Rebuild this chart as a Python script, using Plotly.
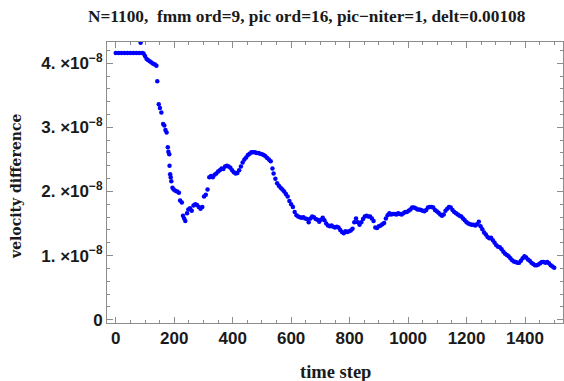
import plotly.graph_objects as go

# time steps and velocity difference (in units of 1e-8)
time_step = [0, 10, 20, 30, 40, 50, 60, 70, 80, 85, 90,
             95, 100, 105, 110, 116, 122, 128, 134, 139, 142,
             147, 151, 156, 162, 166, 170, 174, 178, 180, 183, 184,
             186, 188, 190, 194, 198, 204, 210, 216, 220, 226, 230, 234, 238,
             244, 248, 254, 260, 266, 272, 278, 284, 290, 296, 302, 308, 314,
             320, 326, 332, 338, 344, 350, 356, 362, 368, 374, 380, 386, 392, 398,
             404, 410, 416, 422, 428, 434, 440, 446, 452, 458, 464, 470, 476, 482,
             488, 494, 500, 506, 512, 518, 524, 530, 536, 540, 546, 552, 558, 564,
             570, 576, 582, 588, 594, 600, 606, 612, 618, 624, 630, 636, 642, 648,
             654, 660, 666, 672, 678, 684, 690, 696, 702, 708, 714, 720, 726, 732,
             738, 744, 750, 756, 762, 768, 774, 780, 786, 792, 798, 804, 810, 816,
             822, 828, 834, 840, 846, 852, 858, 864, 870, 876, 882, 888, 894, 900,
             906, 912, 918, 924, 930, 936, 942, 948, 954, 960, 966, 972, 978, 984,
             990, 996, 1002, 1008, 1014, 1020, 1026, 1032, 1038, 1044, 1050, 1056,
             1062, 1068, 1074, 1080, 1086, 1092, 1098, 1104, 1110, 1116, 1122, 1128,
             1134, 1140, 1146, 1152, 1158, 1164, 1170, 1176, 1182, 1188, 1194, 1200,
             1206, 1212, 1218, 1224, 1230, 1236, 1242, 1248, 1254, 1260, 1266, 1272,
             1278, 1284, 1290, 1296, 1302, 1308, 1314, 1320, 1326, 1332, 1338, 1344,
             1350, 1356, 1362, 1368, 1374, 1380, 1386, 1392, 1398, 1404, 1410, 1416,
             1422, 1428, 1434, 1440, 1446, 1452, 1458, 1464, 1470, 1476, 1482, 1488,
             1494, 1500]

vel_diff_e8 = [4.16, 4.16, 4.16, 4.16, 4.16, 4.16, 4.16, 4.16, 4.16, 4.32, 4.16,
               4.15, 4.11, 4.07, 4.05, 4.03, 4.01, 3.99, 3.98, 3.96, 3.72,
               3.36, 3.30, 3.23, 3.05, 3.03, 2.96, 2.92, 2.69, 2.62, 2.58, 2.40,
               2.27, 2.22, 2.16, 2.06, 2.03, 2.01, 2.00, 1.98, 1.86, 1.83, 1.62, 1.58, 1.54,
               1.66, 1.72, 1.74, 1.70, 1.78, 1.80, 1.79, 1.76, 1.73, 1.76, 1.92, 1.95, 2.03,
               2.22, 2.24, 2.22, 2.26, 2.28, 2.31, 2.33, 2.36, 2.35, 2.39, 2.40, 2.39, 2.37, 2.33,
               2.30, 2.28, 2.29, 2.33, 2.39, 2.45, 2.50, 2.53, 2.57, 2.59, 2.61, 2.61, 2.61, 2.60,
               2.60, 2.59, 2.58, 2.57, 2.55, 2.52, 2.50, 2.47, 2.36, 2.28, 2.20, 2.13, 2.09, 2.06,
               2.03, 2.00, 1.96, 1.92, 1.85, 1.80, 1.76, 1.68, 1.63, 1.61, 1.60, 1.59, 1.60, 1.58,
               1.57, 1.52, 1.58, 1.61, 1.60, 1.57, 1.56, 1.53, 1.56, 1.59, 1.55, 1.50, 1.47, 1.46,
               1.47, 1.45, 1.44, 1.45, 1.44, 1.40, 1.37, 1.35, 1.38, 1.37, 1.38, 1.39, 1.42, 1.52,
               1.58, 1.52, 1.48, 1.52, 1.57, 1.61, 1.62, 1.61, 1.61, 1.58, 1.54, 1.44, 1.43, 1.46,
               1.47, 1.49, 1.51, 1.58, 1.63, 1.66, 1.64, 1.65, 1.65, 1.64, 1.66, 1.65, 1.64, 1.66,
               1.68, 1.68, 1.70, 1.72, 1.75, 1.75, 1.74, 1.72, 1.72, 1.71, 1.70, 1.69,
               1.71, 1.75, 1.76, 1.76, 1.75, 1.71, 1.69, 1.67, 1.64, 1.62, 1.64, 1.70,
               1.73, 1.76, 1.75, 1.71, 1.68, 1.66, 1.64, 1.62, 1.61, 1.58, 1.55, 1.52,
               1.50, 1.49, 1.48, 1.48, 1.47, 1.49, 1.53, 1.46, 1.41, 1.36, 1.33, 1.29,
               1.27, 1.28, 1.24, 1.20, 1.16, 1.14, 1.13, 1.10, 1.06, 1.03, 1.01, 0.99,
               0.96, 0.93, 0.91, 0.90, 0.89, 0.89, 0.92, 0.96, 0.99, 0.97, 0.94, 0.92,
               0.89, 0.87, 0.85, 0.85, 0.86, 0.88, 0.90, 0.90, 0.89, 0.90, 0.88, 0.85,
               0.83, 0.81]

x_ticks = [0, 200, 400, 600, 800, 1000, 1200, 1400]
y_tick_vals_e8 = [0, 1, 2, 3, 4]
y_tick_text = ["0", "1. ×10<sup>−8</sup>", "2. ×10<sup>−8</sup>",
               "3. ×10<sup>−8</sup>", "4. ×10<sup>−8</sup>"]

title_text = "N=1100,  fmm ord=9, pic ord=16, pic−niter=1, delt=0.00108"
x_title = "time step"
y_title = "velocity difference"

vel_diff = [v * 1e-8 for v in vel_diff_e8]
y_tick_vals = [v * 1e-8 for v in y_tick_vals_e8]

serif = "Liberation Serif"
sans = "Liberation Sans"
frame_col = "#8c8c8c"
text_col = "#1a1a1a"

W, H = 564, 381
ML, MR, MT, MB = 107, 1, 42, 58
plot_w = W - ML - MR
plot_h = H - MT - MB

fig = go.Figure()
fig.add_trace(go.Scatter(
    x=time_step, y=vel_diff, mode="markers",
    marker=dict(color="#0000ff", size=4.5, line=dict(width=0)),
    showlegend=False, cliponaxis=True,
))

fig.update_layout(
    width=W, height=H,
    margin=dict(l=ML, r=MR, t=MT, b=MB),
    paper_bgcolor="white", plot_bgcolor="white",
    font=dict(family=serif, color=text_col),
    annotations=[
        dict(text="<b>" + title_text + "</b>",
             x=(307 - ML) / plot_w, y=(H - MB - 16) / plot_h,
             xref="paper", yref="paper", xanchor="center", yanchor="middle",
             showarrow=False, font=dict(size=17.3, family=serif, color=text_col)),
        dict(text="<b>" + y_title + "</b>",
             x=(16 - ML) / plot_w, y=(H - MB - 186) / plot_h,
             xref="paper", yref="paper", xanchor="center", yanchor="middle",
             textangle=-90,
             showarrow=False, font=dict(size=14, family="DejaVu Serif", color=text_col)),
        dict(text="<b>" + x_title + "</b>",
             x=(335 - ML) / plot_w, y=(H - MB - 372) / plot_h,
             xref="paper", yref="paper", xanchor="center", yanchor="middle",
             showarrow=False, font=dict(size=18.5, family=serif, color=text_col)),
    ],
)

fig.update_xaxes(
    range=[-30, 1530], tickvals=x_ticks, ticktext=[f"<b>{t}</b>" for t in x_ticks],
    ticks="inside", ticklen=6, tickwidth=1, tickcolor=frame_col,
    showline=True, linecolor=frame_col, linewidth=1, mirror="allticks",
    showgrid=False, zeroline=False,
    tickfont=dict(size=17, family=sans, color=text_col),
    minor=dict(dtick=50, tick0=0, ticks="inside", ticklen=3, tickcolor=frame_col, showgrid=False),
)
fig.update_yaxes(
    range=[-0.05e-8, 4.33e-8], tickvals=y_tick_vals,
    ticktext=[f"<b>{t}</b>" for t in y_tick_text],
    ticks="inside", ticklen=6, tickwidth=1, tickcolor=frame_col,
    showline=True, linecolor=frame_col, linewidth=1, mirror="allticks",
    showgrid=False, zeroline=False,
    tickfont=dict(size=17, family=sans, color=text_col),
    minor=dict(dtick=0.2e-8, tick0=0, ticks="inside", ticklen=3, tickcolor=frame_col, showgrid=False),
)

fig.write_html("out.html")
